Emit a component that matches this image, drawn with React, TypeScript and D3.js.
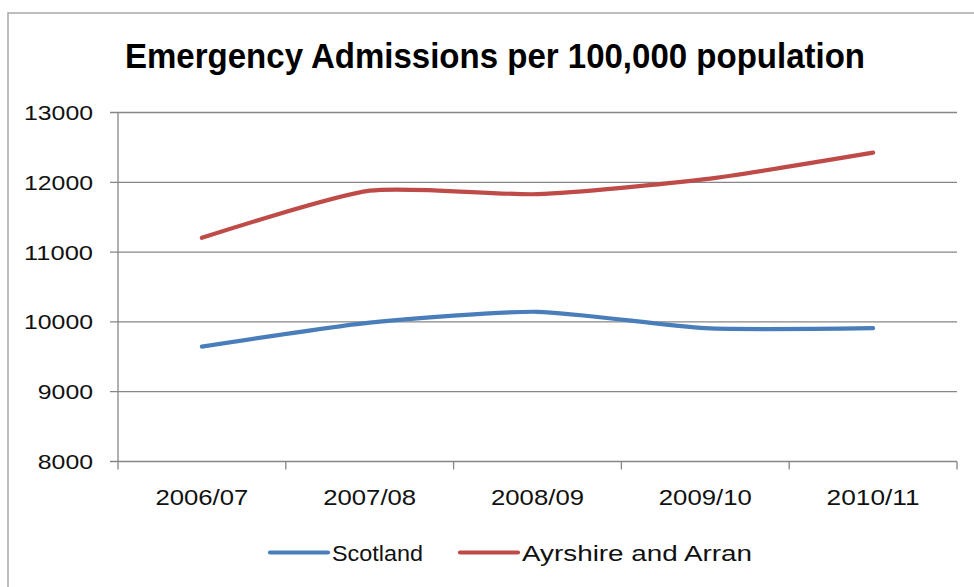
import React from "react";
import * as d3 from "d3";

const categories = ["2006/07", "2007/08", "2008/09", "2009/10", "2010/11"];
const scotland = [9645, 9990, 10145, 9910, 9910];
const ayrshire = [11205, 11880, 11830, 12045, 12425];
const yTicks = [8000, 9000, 10000, 11000, 12000, 13000];

const series = [
  { name: "Scotland", values: scotland, color: "#4a7ebb" },
  { name: "Ayrshire and Arran", values: ayrshire, color: "#be4b48" },
];

const W = 974;
const H = 587;
const plot = { left: 118, right: 957, top: 112.5, bottom: 461.5 };
const FONT = "'Liberation Sans', Arial, sans-serif";

export default function App() {
  const x = d3
    .scaleBand<string>()
    .domain(categories)
    .range([plot.left, plot.right])
    .paddingInner(0)
    .paddingOuter(0);
  const y = d3.scaleLinear().domain([8000, 13000]).range([plot.bottom, plot.top]);
  const cx = (c: string) => (x(c) ?? 0) + x.bandwidth() / 2;

  // smoothed line, close to straight segments with rounded joints
  const line = d3
    .line<number>()
    .x((_, i) => cx(categories[i]))
    .y((v) => y(v))
    .curve(d3.curveCardinal.tension(0.35));

  const boundaries = [...categories.map((c) => x(c) ?? 0), plot.right];
  const gridColor = "#868686";

  const legendItems = [
    { name: "Scotland", color: "#4a7ebb", x0: 270, width: 91 },
    { name: "Ayrshire and Arran", color: "#be4b48", x0: 460, width: 230 },
  ];

  return (
    <svg
      width={W}
      height={H}
      style={{ position: "absolute", left: 0, top: 0, background: "#fff" }}
    >
      <rect x={0} y={0} width={W} height={H} fill="#fff" />
      {/* chart frame */}
      <rect x={8} y={13} width={1000} height={700} fill="none" stroke="#a8a8a8" strokeWidth={1.5} />

      <text
        x={495}
        y={68}
        textAnchor="middle"
        fontFamily={FONT}
        fontWeight="bold"
        fontSize={35}
        fill="#000"
        textLength={740}
        lengthAdjust="spacingAndGlyphs"
      >
        Emergency Admissions per 100,000 population
      </text>

      {/* gridlines and y ticks */}
      {yTicks.map((t) => (
        <g key={t}>
          <line x1={110} x2={plot.right} y1={y(t)} y2={y(t)} stroke={gridColor} strokeWidth={1.3} />
          <text
            x={93}
            y={y(t) + 7.5}
            textAnchor="end"
            fontFamily={FONT}
            fontSize={21}
            fill="#111"
            textLength={String(t).length * 13.8}
            lengthAdjust="spacingAndGlyphs"
          >
            {t}
          </text>
        </g>
      ))}

      {/* y axis */}
      <line x1={plot.left} x2={plot.left} y1={plot.top} y2={plot.bottom} stroke={gridColor} strokeWidth={1.3} />

      {/* category ticks */}
      {boundaries.map((b, i) => (
        <line key={i} x1={b} x2={b} y1={plot.bottom} y2={plot.bottom + 8} stroke={gridColor} strokeWidth={1.3} />
      ))}
      {categories.map((c) => (
        <text
          key={c}
          x={cx(c)}
          y={505}
          textAnchor="middle"
          fontFamily={FONT}
          fontSize={22}
          fill="#111"
          textLength={93}
          lengthAdjust="spacingAndGlyphs"
        >
          {c}
        </text>
      ))}

      {/* series */}
      {series.map((s) => (
        <path
          key={s.name}
          d={line(s.values) ?? ""}
          fill="none"
          stroke={s.color}
          strokeWidth={4.2}
          strokeLinecap="round"
          strokeLinejoin="round"
        />
      ))}

      {/* legend */}
      {legendItems.map((l) => (
        <g key={l.name}>
          <line
            x1={l.x0}
            x2={l.x0 + 58}
            y1={552.5}
            y2={552.5}
            stroke={l.color}
            strokeWidth={4.2}
            strokeLinecap="round"
          />
          <text
            x={l.x0 + 62}
            y={561}
            fontFamily={FONT}
            fontSize={22}
            fill="#111"
            textLength={l.width}
            lengthAdjust="spacingAndGlyphs"
          >
            {l.name}
          </text>
        </g>
      ))}
    </svg>
  );
}
